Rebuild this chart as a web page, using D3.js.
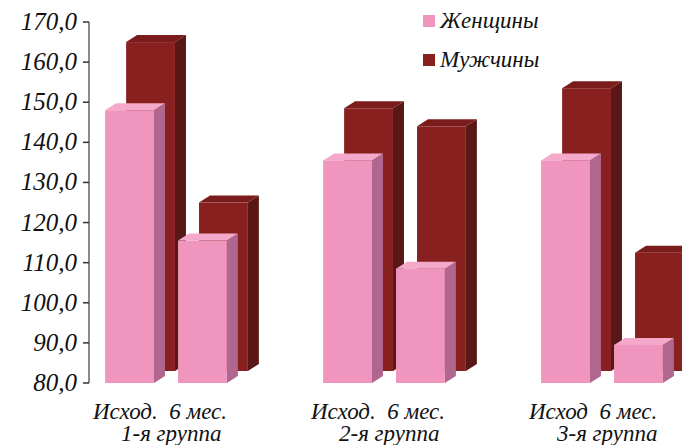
<!DOCTYPE html>
<html>
<head>
<meta charset="utf-8">
<script src="https://cdn.jsdelivr.net/npm/d3@7"></script>
<style>
  body { margin: 0; background: #fff; }
</style>
</head>
<body>
<div id="chart"></div>
<script>
// Data.
const groups = ['1-я группа', '2-я группа', '3-я группа'];
const periodLabels = ['Исход.  6 мес.', 'Исход.  6 мес.', 'Исход  6 мес.'];
const periods = ['Исход', '6 мес.'];
const women = [[148.0, 115.5], [135.5, 108.5], [135.5, 89.5]];
const men = [[162.0, 122.0], [145.5, 141.0], [150.5, 109.5]];
const seriesNames = ['Женщины', 'Мужчины'];

const width = 682, height = 445;
const y0 = 383;
const serif = '"Liberation Serif", "DejaVu Serif", "Times New Roman", serif';

// colours: front, side, top
const pink = { front: '#f096be', side: '#b0668e', top: '#f4a9ca' };
const red = { front: '#87201f', side: '#591815', top: '#7a1c1c' };

const svg = d3.select('#chart')
    .append('svg')
    .attr('width', width)
    .attr('height', height)
    .attr('font-family', serif)
    .attr('font-style', 'italic');

// scales
const y = d3.scaleLinear().domain([80, 170]).range([y0, 22]);
const x = d3.scaleBand().domain(groups).range([57, 711]);
const xIn = d3.scaleBand().domain(periods).range([0, x.bandwidth()])
    .paddingInner(0.33).paddingOuter(0.66);

const bw = xIn.bandwidth();
const depth = { dx: 11, dy: -7 };   // bar thickness
const row = { dx: 21, dy: -12 };    // back row shift

// one 3D box
function box(g, left, top, bottom, c) {
    const d = depth;
    g.append('polygon')
        .attr('points', [[left + bw, top], [left + bw + d.dx, top + d.dy],
            [left + bw + d.dx, bottom + d.dy], [left + bw, bottom]].join(' '))
        .attr('fill', c.side);
    g.append('polygon')
        .attr('points', [[left, top], [left + d.dx, top + d.dy],
            [left + bw + d.dx, top + d.dy], [left + bw, top]].join(' '))
        .attr('fill', c.top);
    g.append('rect')
        .attr('x', left).attr('y', top)
        .attr('width', bw).attr('height', bottom - top)
        .attr('fill', c.front);
}

// men (back row) first
const back = svg.append('g');
groups.forEach((gName, gi) => {
    periods.forEach((p, pi) => {
        const left = x(gName) + xIn(p) + row.dx;
        const base = y0 + row.dy;
        box(back, left, y(men[gi][pi]) + row.dy, base, red);
    });
});

// women (front row)
const front = svg.append('g');
groups.forEach((gName, gi) => {
    periods.forEach((p, pi) => {
        const left = x(gName) + xIn(p);
        box(front, left, y(women[gi][pi]), y0, pink);
    });
});

// y axis
const axis = svg.append('g');
axis.append('line')
    .attr('x1', 89).attr('x2', 89)
    .attr('y1', y(170)).attr('y2', y(80))
    .attr('stroke', '#8a8a8a').attr('stroke-width', 2);
const fmt = v => d3.format('.1f')(v).replace('.', ',');
y.ticks(10).forEach(t => {
    axis.append('line')
        .attr('x1', 83).attr('x2', 89)
        .attr('y1', y(t)).attr('y2', y(t))
        .attr('stroke', '#333').attr('stroke-width', 1.5);
    axis.append('text')
        .attr('x', 77).attr('y', y(t) + 8)
        .attr('text-anchor', 'end')
        .attr('font-size', 25)
        .attr('fill', '#111')
        .text(fmt(t));
});

// category labels, two lines in one text
groups.forEach((gName, gi) => {
    const label = svg.append('text')
        .attr('font-size', 23)
        .attr('fill', '#111')
        .style('white-space', 'pre');
    label.append('tspan')
        .attr('x', x(gName) + 36).attr('y', 419)
        .text(periodLabels[gi]);
    label.append('tspan')
        .attr('x', x(gName) + 64).attr('y', 441)
        .text(gName);
});

// legend
const legend = svg.append('g');
[pink, red].forEach((c, i) => {
    legend.append('rect')
        .attr('x', 423).attr('y', 15 + i * 39)
        .attr('width', 12).attr('height', 12)
        .attr('fill', c.front);
    legend.append('text')
        .attr('x', 440).attr('y', 28 + i * 39)
        .attr('font-size', 23)
        .attr('fill', '#111')
        .text(seriesNames[i]);
});
</script>
</body>
</html>
